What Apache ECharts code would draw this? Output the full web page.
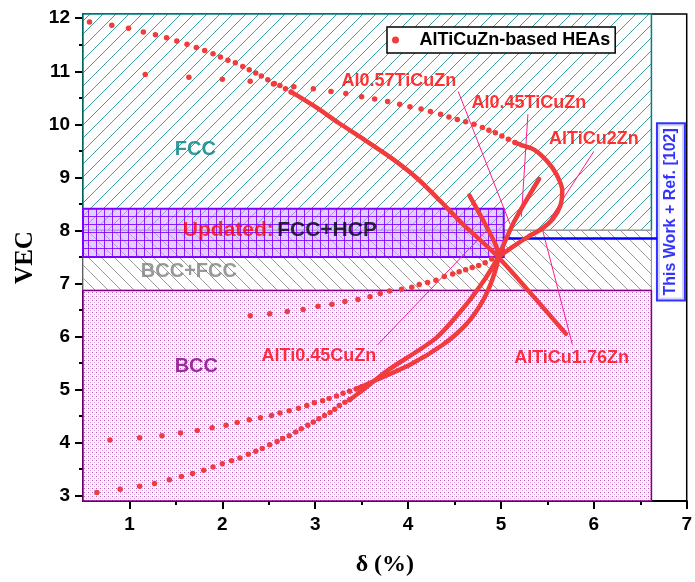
<!DOCTYPE html>
<html>
<head>
<meta charset="utf-8">
<script src="https://cdn.jsdelivr.net/npm/echarts/dist/echarts.min.js"></script>
<style>
  html, body { margin: 0; padding: 0; background: #fff; }
  #chart { width: 695px; height: 582px; }
</style>
</head>
<body>
<div id="chart"></div>
<script>
// ---- axis ticks ----
const xTicks = [1, 2, 3, 4, 5, 6, 7];
const xMinorTicks = [1.5, 2.5, 3.5, 4.5, 5.5, 6.5];
const yTicks = [3, 4, 5, 6, 7, 8, 9, 10, 11, 12];
const yMinorTicks = [3.5, 4.5, 5.5, 6.5, 7.5, 8.5, 9.5, 10.5, 11.5];

// ---- phase regions: [δ from, δ to, VEC from, VEC to] ----
const regionFCC = [0.5, 6.62, 8.0, 12.08];
const regionBCCFCC = [0.5, 6.62, 6.87, 8.0];
const regionBCC = [0.5, 6.62, 2.9, 6.87];
const regionFCCHCP = [0.5, 5.03, 7.5, 8.41];

// ---- AlTiCuZn-based HEAs: [δ (%), VEC] ----
// Zn series
const znDots = [[0.57,11.93],[0.81,11.87],[0.99,11.81],[1.15,11.74],[1.28,11.69],[1.40,11.63],[1.51,11.57],[1.62,11.51],[1.72,11.45],[1.81,11.39],[1.90,11.33],[1.98,11.27],[2.06,11.21],[2.14,11.16],[2.22,11.09],[2.29,11.03],[2.36,10.97],[2.42,10.91],[2.49,10.84],[2.56,10.77],[2.62,10.73],[2.68,10.67],[2.74,10.61]];
const znDense = [[2.74,10.61],[2.80,10.55],[3.02,10.31],[3.25,10.03],[3.52,9.72],[3.84,9.34],[4.10,8.98],[4.35,8.55],[4.60,8.10],[4.97,7.50],[5.70,6.05]];
// Cu series
const cuDotsRich = [[1.17,10.94],[1.64,10.89],[2.00,10.85],[2.30,10.81],[2.55,10.76],[2.77,10.71],[2.98,10.67],[3.17,10.62],[3.33,10.58],[3.50,10.52],[3.64,10.48],[3.78,10.43],[3.91,10.38],[4.02,10.33],[4.14,10.29],[4.24,10.24],[4.35,10.19],[4.44,10.14],[4.53,10.09],[4.62,10.05],[4.71,10.00],[4.80,9.94],[4.87,9.89],[4.94,9.84],[5.01,9.78],[5.08,9.72],[5.15,9.66]];
const cuDense = [[5.15,9.66],[5.22,9.61],[5.36,9.52],[5.50,9.30],[5.60,9.05],[5.66,8.75],[5.64,8.47],[5.56,8.22],[5.44,8.03],[5.29,7.88],[5.15,7.72],[4.97,7.50]];
const cuDotsLean = [[4.90,7.46],[4.83,7.39],[4.76,7.34],[4.69,7.30],[4.62,7.26],[4.55,7.22],[4.48,7.18],[4.39,7.13],[4.30,7.06],[4.21,7.02],[4.12,6.98],[4.04,6.93],[3.93,6.89],[3.80,6.86],[3.70,6.81],[3.59,6.75],[3.46,6.70],[3.32,6.66],[3.18,6.61],[3.03,6.57],[2.87,6.51],[2.70,6.47],[2.51,6.43],[2.30,6.39]];
// Ti series
const tiDots = [[0.79,4.05],[1.11,4.09],[1.35,4.13],[1.55,4.18],[1.73,4.23],[1.89,4.28],[2.04,4.33],[2.16,4.38],[2.29,4.43],[2.41,4.47],[2.53,4.51],[2.62,4.56],[2.72,4.60],[2.82,4.65],[2.91,4.70],[2.99,4.75],[3.08,4.79],[3.15,4.83],[3.23,4.88],[3.30,4.93],[3.37,4.97],[3.44,5.01]];
const tiDense = [[3.44,5.01],[3.50,5.06],[4.02,5.47],[4.37,5.84],[4.62,6.22],[4.80,6.66],[4.91,7.09],[4.97,7.50],[4.95,7.70],[4.82,8.15],[4.66,8.66]];
// Al series
const alDots = [[0.65,3.06],[0.90,3.12],[1.11,3.18],[1.27,3.23],[1.43,3.30],[1.56,3.36],[1.68,3.42],[1.80,3.48],[1.90,3.54],[2.00,3.60],[2.10,3.66],[2.19,3.71],[2.28,3.78],[2.36,3.84],[2.43,3.89],[2.51,3.96],[2.59,4.02],[2.65,4.08],[2.72,4.13],[2.79,4.20],[2.85,4.26],[2.92,4.33],[2.98,4.39],[3.04,4.45],[3.10,4.51],[3.16,4.57],[3.21,4.63],[3.26,4.70],[3.32,4.76],[3.37,4.81]];
const alDense = [[3.37,4.81],[3.42,4.87],[3.52,5.00],[3.77,5.35],[4.30,5.97],[4.62,6.59],[4.83,7.09],[4.94,7.40],[4.97,7.50],[5.12,8.09],[5.26,8.53],[5.41,8.97]];

// ---- composition labels and their pointers ----
const alloyNames = ['Al0.57TiCuZn', 'Al0.45TiCuZn', 'AlTiCu2Zn', 'AlTi0.45CuZn', 'AlTiCu1.76Zn'];
const alloyPoints = [[5.10, 8.11], [5.22, 8.26], [5.53, 8.22], [4.88, 8.06], [5.44, 8.06]];

const RED = '#f03c3c';
const SANS = 'Liberation Sans, Arial, sans-serif';
const SERIF = 'Liberation Serif, Times New Roman, serif';

// ---- pattern tiles ----
function hatch(size, color, rising) {
  const c = document.createElement('canvas');
  c.width = c.height = size;
  const g = c.getContext('2d');
  g.fillStyle = '#ffffff'; g.fillRect(0, 0, size, size);
  // one-pixel diagonal, drawn pixel by pixel so it stays thin and crisp
  g.fillStyle = color;
  for (let i = 0; i < size; i++) {
    const y = rising ? size - 1 - i : i;
    g.fillRect(i, y, 1, 1);
  }
  return { image: c, repeat: 'repeat' };
}
function dots() {
  const c = document.createElement('canvas');
  c.width = c.height = 4;
  const g = c.getContext('2d');
  g.fillStyle = '#ffffff'; g.fillRect(0, 0, 4, 4);
  g.fillStyle = '#b850b8'; g.fillRect(0, 0, 1, 1);
  g.fillStyle = '#dc9cdc'; g.fillRect(2, 2, 1, 1);
  g.fillStyle = '#f2d6f2'; g.fillRect(2, 0, 1, 1); g.fillRect(0, 2, 1, 1);
  return { image: c, repeat: 'repeat' };
}
function mesh() {
  const c = document.createElement('canvas');
  c.width = c.height = 8;
  const g = c.getContext('2d');
  g.fillStyle = 'rgba(205,175,255,0.6)'; g.fillRect(0, 0, 8, 8);
  g.fillStyle = 'rgba(128,0,255,0.85)';
  g.fillRect(0, 0, 8, 1); g.fillRect(0, 0, 1, 8);
  return { image: c, repeat: 'repeat' };
}

const regionStyles = [
  { fill: hatch(13, '#3f9f9f', true), stroke: '#008080', lineWidth: 1.5 },
  { fill: hatch(13, '#9a9a9a', false), stroke: '#9a9a9a', lineWidth: 1.2 },
  { fill: dots(), stroke: '#800080', lineWidth: 1.5 },
  { fill: mesh(), stroke: '#8000ff', lineWidth: 2 }
];

const chart = echarts.init(document.getElementById('chart'), null, { renderer: 'canvas' });

function regionSeries(r, idx) {
  return {
    type: 'custom', silent: true, clip: false, z: 1 + idx * 0.01,
    data: [r],
    renderItem: function (params, api) {
      const p0 = api.coord([api.value(0), api.value(3)]);
      const p1 = api.coord([api.value(1), api.value(2)]);
      const s = regionStyles[idx];
      return {
        type: 'rect',
        shape: { x: p0[0], y: p0[1], width: p1[0] - p0[0], height: p1[1] - p0[1] },
        style: { fill: s.fill, stroke: s.stroke, lineWidth: s.lineWidth }
      };
    }
  };
}

function denseLine(pts) {
  return {
    type: 'line', data: pts, showSymbol: false, symbol: 'none', smooth: 0.25,
    silent: true, z: 5,
    lineStyle: { color: RED, width: 4.5, cap: 'round', join: 'round' }
  };
}

const dotData = [].concat(znDots, cuDotsRich, cuDotsLean, tiDots, alDots);

const textAnchors = [
  { name: 'FCC', value: [1.71, 9.53], label: { color: '#008080', fontSize: 20 } },
  { name: 'BCC+FCC', value: [1.64, 7.22], label: { color: '#808080', fontSize: 20 } },
  { name: 'BCC', value: [1.72, 5.44], label: { color: '#800080', fontSize: 20 } },
  { name: 'upd', value: [2.62, 8.0], label: { formatter: '{r|Updated:} {k|FCC+HCP}' } },
  { name: alloyNames[0], value: [3.90, 10.81], label: { color: '#ff0000', fontSize: 18 } },
  { name: alloyNames[1], value: [5.30, 10.41], label: { color: '#ff0000', fontSize: 18 } },
  { name: alloyNames[2], value: [6.00, 9.72], label: { color: '#ff0000', fontSize: 18 } },
  { name: alloyNames[3], value: [3.04, 5.63], label: { color: '#ff0000', fontSize: 18 } },
  { name: alloyNames[4], value: [5.76, 5.60], label: { color: '#ff0000', fontSize: 18 } }
];
const pointerStarts = [[4.54, 10.62], [5.29, 10.19], [6.00, 9.49], [3.67, 5.84], [5.77, 5.84]];

const option = {
  animation: false,
  backgroundColor: '#ffffff',
  grid: { left: 83, right: 2, top: 14, bottom: 79, show: true, borderColor: '#000', borderWidth: 1.5, backgroundColor: 'transparent' },
  legend: {
    data: ['AlTiCuZn-based HEAs'],
    left: 387, top: 27,
    padding: [4, 5, 4, 5],
    itemWidth: 38, itemHeight: 7, itemGap: 0,
    icon: 'circle',
    borderColor: '#000', borderWidth: 1.5, backgroundColor: '#fff',
    textStyle: { fontFamily: SANS, fontSize: 18, fontWeight: 'bold', color: '#000' },
    selectedMode: false, z: 20
  },
  xAxis: [
    {
      type: 'value', min: 0.5, max: 7, position: 'bottom',
      name: 'δ (%)', nameLocation: 'middle', nameGap: 52,
      nameTextStyle: { fontFamily: SERIF, fontSize: 24, fontWeight: 'bold', color: '#000' },
      axisLine: { show: true, lineStyle: { color: '#000', width: 2 } },
      axisTick: { show: true, customValues: xTicks, length: 8, lineStyle: { color: '#000', width: 2 } },
      axisLabel: { customValues: xTicks, margin: 14, fontFamily: SANS, fontSize: 19, fontWeight: 'bold', color: '#000' },
      splitLine: { show: false }
    },
    {
      type: 'value', min: 0.5, max: 7, position: 'bottom',
      axisLine: { show: false },
      axisTick: { show: true, customValues: xMinorTicks, length: 4, lineStyle: { color: '#000', width: 2 } },
      axisLabel: { show: false }, splitLine: { show: false }
    }
  ],
  yAxis: [
    {
      type: 'value', min: 2.9, max: 12.08, position: 'left',
      name: 'VEC', nameLocation: 'middle', nameGap: 45, nameRotate: 90,
      nameTextStyle: { fontFamily: SERIF, fontSize: 25, fontWeight: 'bold', color: '#000' },
      axisLine: { show: true, lineStyle: { color: '#000', width: 2 } },
      axisTick: { show: true, customValues: yTicks, length: 8, lineStyle: { color: '#000', width: 2 } },
      axisLabel: { customValues: yTicks, margin: 13, fontFamily: SANS, fontSize: 19, fontWeight: 'bold', color: '#000' },
      splitLine: { show: false }
    },
    {
      type: 'value', min: 2.9, max: 12.08, position: 'left',
      axisLine: { show: false },
      axisTick: { show: true, customValues: yMinorTicks, length: 4, lineStyle: { color: '#000', width: 2 } },
      axisLabel: { show: false }, splitLine: { show: false }
    }
  ],
  series: [
    regionSeries(regionFCC, 0),
    regionSeries(regionBCCFCC, 1),
    regionSeries(regionBCC, 2),
    denseLine(znDense),
    denseLine(cuDense),
    denseLine(tiDense),
    denseLine(alDense),
    {
      name: 'AlTiCuZn-based HEAs', type: 'scatter', data: dotData,
      symbol: 'circle', symbolSize: 5.5, z: 6,
      itemStyle: { color: RED, opacity: 1 }
    },
    regionSeries(regionFCCHCP, 3),
    // composition pointers
    {
      type: 'line', data: [], silent: true, z: 8,
      markLine: {
        silent: true, symbol: ['none', 'none'],
        label: { show: false },
        lineStyle: { color: '#ff1a8c', width: 1, type: 'solid' },
        data: pointerStarts.map((s, i) => [{ coord: s }, { coord: alloyPoints[i] }])
      }
    },
    // arrow from the reference box
    {
      type: 'line', data: [], silent: true, z: 9,
      markLine: {
        silent: true, symbol: ['none', 'triangle'], symbolSize: [1, 13],
        label: { show: false },
        lineStyle: { color: '#0000ff', width: 2.5, type: 'solid', opacity: 1 },
        data: [[{ coord: [6.68, 7.86] }, { coord: [5.03, 7.86] }]]
      }
    },
    // text annotations
    {
      type: 'scatter', silent: true, symbolSize: 0, z: 10,
      label: {
        show: true, position: 'inside', formatter: '{b}',
        fontFamily: SANS, fontWeight: 'bold',
        rich: {
          r: { color: '#ff0000', fontSize: 21, fontWeight: 'bold', fontFamily: SANS },
          k: { color: '#000000', fontSize: 21, fontWeight: 'bold', fontFamily: SANS }
        }
      },
      data: textAnchors
    },
    {
      type: 'scatter', silent: true, symbolSize: 0, z: 11,
      label: {
        show: true, position: 'inside', rotate: 90,
        formatter: 'This Work + Ref. [102]',
        color: '#0000ff', fontFamily: SANS, fontSize: 16, fontWeight: 'bold',
        backgroundColor: '#ffffff', borderColor: '#0000ff', borderWidth: 2,
        padding: [5, 4, 5, 4]
      },
      data: [[6.83, 8.35]]
    }
  ]
};
chart.setOption(option);
</script>
</body>
</html>
